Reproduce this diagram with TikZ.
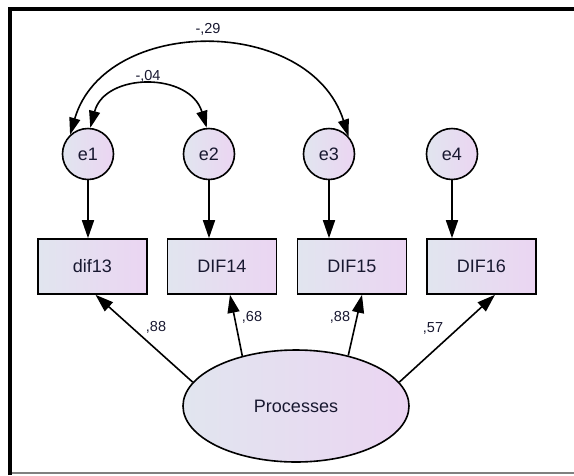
\documentclass[tikz,border=0pt]{standalone}
\usepackage{fontspec}
\setmainfont{Liberation Sans}
\usetikzlibrary{arrows.meta,shapes.geometric}
\definecolor{amosleft}{RGB}{225,229,239}
\definecolor{amosright}{RGB}{235,213,242}
\definecolor{labcol}{RGB}{24,24,48}

\begin{document}
\begin{tikzpicture}[x=1pt, y=-1pt,
        every node/.style={font=\fontsize{18}{20}\selectfont, text=labcol},
        errnode/.style={circle, draw, line width=1.6pt, minimum size=51pt, inner sep=0pt,
            left color=amosleft, right color=amosright},
        obsnode/.style={rectangle, draw, line width=1.6pt, minimum width=109pt, minimum height=55pt,
            inner sep=0pt, left color=amosleft, right color=amosright},
        latnode/.style={ellipse, draw, line width=1.6pt, minimum width=226pt, minimum height=112pt,
            inner sep=0pt, left color=amosleft, right color=amosright},
        regpath/.style={line width=1.6pt, -{Triangle[length=18pt,width=12pt]}},
        covpath/.style={line width=1.6pt, {Triangle[length=17pt,width=11pt]}-{Triangle[length=17pt,width=11pt]}},
        est/.style={font=\fontsize{14.5}{16}\selectfont}]
        \useasboundingbox (0,0) rectangle (574,475);

        \draw[line width=4pt] (10,475) -- (10,9) -- (574,9);
        \draw[gray, line width=1.5pt] (12,473) -- (574,473);

        \foreach \i/\x in {1/88,2/209,3/329,4/452} {
            \node[errnode] (e\i) at (\x,154) {e\i};
        }

        \node[obsnode] (d13) at (92.5,266.5) {dif13};
        \foreach \i/\x in {14/222,15/352,16/481.5} {
            \node[obsnode] (d\i) at (\x,266.5) {DIF\i};
        }

        \node[latnode] (proc) at (296,406) {Processes};

        \foreach \i/\j in {1/13,2/14,3/15,4/16}
            \draw[regpath] (e\i) -- (e\i |- d\j.north);

        \draw[regpath] (proc.167) -- ([xshift=3pt]d13.south);
        \draw[regpath] (proc.137) -- ([xshift=8pt]d14.south);
        \draw[regpath] (proc.44) -- ([xshift=10pt]d15.south);
        \draw[regpath] (proc.13) -- ([xshift=13.5pt]d16.south);

        \draw[covpath] (e1.133) .. controls (105,15) and (310,15) .. (e3.42);
        \draw[covpath] (e1.85) .. controls (105,72) and (190,72) .. (e2.95);

        \node[est] (r13) at (208,29) {-,29};
        \node[est] (r12) at (148,76) {-,04};
        \node[est] (w13) at (156,327) {,88};
        \node[est] (w14) at (252,317) {,68};
        \node[est] (w15) at (340,317) {,88};
        \node[est] (w16) at (433,328) {,57};
\end{tikzpicture}
\end{document}
